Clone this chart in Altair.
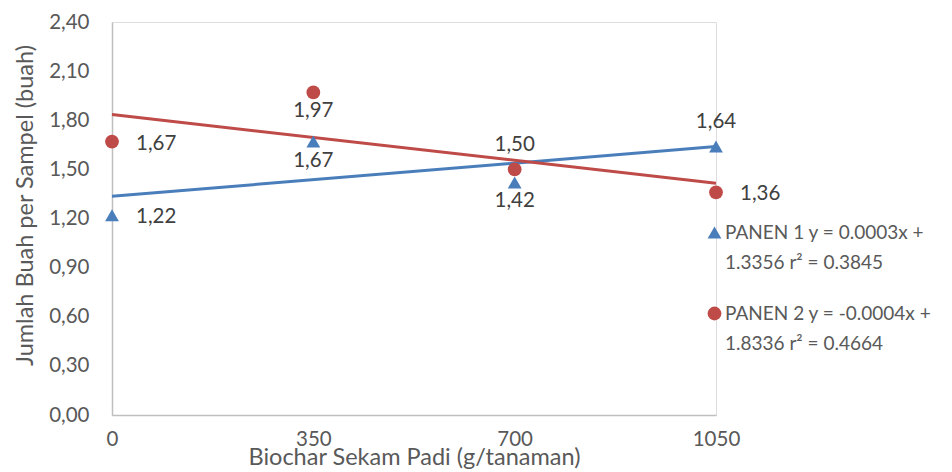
import json
import altair as alt
import pandas as pd

# ---- data ----
x_values = [0, 350, 700, 1050]
panen1 = [1.22, 1.67, 1.42, 1.64]
panen2 = [1.67, 1.97, 1.50, 1.36]
series_names = ["PANEN 1", "PANEN 2"]
legend_text = {
    "PANEN 1": ["PANEN 1 y = 0.0003x +", "1.3356 r\u00b2 = 0.3845"],
    "PANEN 2": ["PANEN 2 y = -0.0004x +", "1.8336 r\u00b2 = 0.4664"],
}
y_ticks = [0.0, 0.3, 0.6, 0.9, 1.2, 1.5, 1.8, 2.1, 2.4]
x_ticks = [0, 350, 700, 1050]
x_title = "Biochar Sekam Padi (g/tanaman)"
y_title = "Jumlah Buah per Sampel (buah)"

rows = []
for name, vals in zip(series_names, [panen1, panen2]):
    for xv, yv in zip(x_values, vals):
        rows.append({"series": name, "x": xv, "y": yv})
df = pd.DataFrame(rows)

FONT = "Lato"
BLUE = "#4A7EBB"
RED = "#BE4B48"
colors = [BLUE, RED]
LBL = 20.5
TTL = 23.5
LEG = 19

label_expr = "datum.label == 'PANEN 1' ? %s : %s" % (
    json.dumps(legend_text["PANEN 1"]), json.dumps(legend_text["PANEN 2"]))

color_scale = alt.Scale(domain=series_names, range=colors)
x_scale = alt.Scale(domain=[0, 1050], nice=False, zero=False)
y_scale = alt.Scale(domain=[0, 2.4], nice=False)

x_axis = alt.Axis(values=x_ticks, format="d", title=x_title, grid=False, ticks=False,
                  domainColor="#BFBFBF", domainWidth=1.5,
                  labelFont=FONT, labelFontSize=LBL, labelColor="#595959",
                  labelPadding=14, titleFont=FONT, titleFontSize=TTL,
                  titleFontWeight="normal", titleColor="#595959",
                  titleY=30, titleBaseline="top", labelFlush=False)
y_axis = alt.Axis(values=y_ticks, title=y_title, grid=False, ticks=False,
                  domainColor="#BFBFBF", domainWidth=1.5,
                  labelExpr="replace(format(datum.value, '.2f'), '.', ',')",
                  labelFont=FONT, labelFontSize=LBL, labelColor="#595959",
                  labelPadding=23, titleFont=FONT, titleFontSize=TTL,
                  titleFontWeight="normal", titleColor="#595959",
                  titleX=-87, titleY=183, titleAngle=270,
                  titleBaseline="middle", titleAlign="center")

base = alt.Chart(df)

trend_layers = []
for name, col in zip(series_names, colors):
    trend_layers.append(
        base.transform_filter(alt.datum.series == name).transform_regression(
            "x", "y", extent=[0, 1050]
        ).mark_line(strokeWidth=3, color=col).encode(
            x=alt.X("x:Q", scale=x_scale, axis=x_axis),
            y=alt.Y("y:Q", scale=y_scale, axis=y_axis),
        )
    )

legend = alt.Legend(
    title=None, orient="none", legendX=593, legendY=201,
    labelExpr=label_expr, labelFont=FONT, labelFontSize=LEG,
    labelColor="#595959", labelLimit=0, rowPadding=31,
    symbolSize=190, symbolOpacity=1, symbolStrokeWidth=0,
    labelOffset=1, padding=0, labelBaseline="middle")

points = base.mark_point(filled=True, opacity=1, size=190).encode(
    x=alt.X("x:Q", scale=x_scale),
    y=alt.Y("y:Q", scale=y_scale),
    color=alt.Color("series:N", scale=color_scale, legend=legend),
    shape=alt.Shape("series:N", scale=alt.Scale(
        domain=series_names, range=["triangle-up", "circle"]), legend=legend),
)

text_base = base.transform_calculate(
    label="replace(format(datum.y, '.2f'), '.', ',')"
)
txt_style = dict(font=FONT, fontSize=LBL, color="#404040")

labels_right = text_base.transform_filter(
    "datum.x == 0 || (datum.series == 'PANEN 2' && datum.x == 1050)"
).mark_text(align="left", baseline="middle", dx=24, dy=2, **txt_style).encode(
    x="x:Q", y="y:Q", text="label:N")

labels_below = text_base.transform_filter(
    "datum.x == 350 || (datum.series == 'PANEN 1' && datum.x == 700)"
).mark_text(align="center", baseline="middle", dy=19, **txt_style).encode(
    x="x:Q", y="y:Q", text="label:N")

labels_above = text_base.transform_filter(
    "(datum.series == 'PANEN 2' && datum.x == 700) || (datum.series == 'PANEN 1' && datum.x == 1050)"
).mark_text(align="center", baseline="middle", dy=-24, **txt_style).encode(
    x="x:Q", y="y:Q", text="label:N")

chart = alt.layer(*trend_layers, points, labels_right, labels_below, labels_above).properties(
    width=604, height=393,
    autosize=alt.AutoSizeParams(type="none"),
    padding={"left": 104, "top": 14, "right": 228, "bottom": 54},
).configure_view(strokeWidth=0, stroke="transparent").configure(
    background="white",
    style={"guide-label": {"lineHeight": 30}},
)

chart.save("out.html", embed_options={"renderer": "svg", "actions": False})
